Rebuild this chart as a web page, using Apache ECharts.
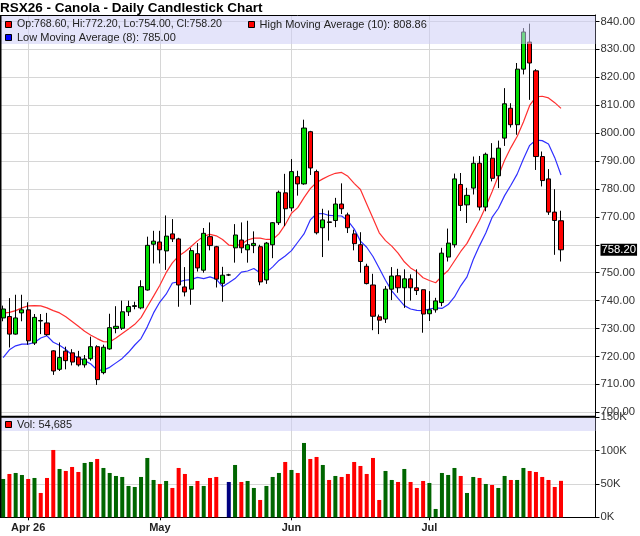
<!DOCTYPE html>
<html><head><meta charset="utf-8">
<script src="https://cdn.jsdelivr.net/npm/echarts/dist/echarts.min.js"></script>
<style>html,body{margin:0;padding:0;background:#fff}#c{width:640px;height:536px}</style>
</head><body><div id="c"></div>
<script>
// ---- data ----
const opens = [733.8,734.3,728.0,735.6,736.7,724.8,732.9,732.0,722.0,715.4,
721.9,721.3,719.8,717.0,719.2,723.5,714.2,722.7,730.0,730.1,
736.0,737.9,737.4,743.8,760.2,761.0,757.8,763.9,762.1,744.9,
744.1,756.8,750.9,762.9,759.3,746.2,749.2,758.9,761.7,758.2,
759.7,759.3,747.4,760.0,767.9,778.6,773.2,784.4,781.8,800.5,
786.2,766.1,768.2,768.7,774.6,770.7,763.9,760.0,752.3,745.6,
734.2,733.4,744.1,748.9,744.6,747.8,744.6,743.9,735.3,736.7,
739.3,755.6,760.0,781.6,774.3,780.3,789.2,773.5,791.0,784.7,
798.2,808.9,803.0,822.9,832.6,822.3,791.6,783.6,771.7,768.6];
const highs = [738.2,740.9,742.1,742.1,739.4,735.2,735.2,735.6,722.2,725.0,
723.5,722.6,722.0,720.5,727.1,724.0,724.2,735.3,738.0,740.0,
740.0,739.6,747.3,762.9,765.0,765.0,770.5,769.2,762.5,752.0,
758.8,760.6,766.0,768.0,759.6,752.1,749.6,767.4,768.0,768.6,
764.8,760.0,761.0,768.1,779.4,785.4,790.7,786.5,804.8,800.8,
786.9,772.9,772.3,776.8,782.0,771.5,765.4,764.5,753.2,749.6,
735.0,745.2,752.0,751.4,751.2,749.4,751.2,744.0,743.4,741.0,
758.9,765.8,785.5,785.7,780.4,791.6,791.8,793.0,796.4,797.3,
816.1,810.7,825.1,837.6,839.2,822.9,793.4,787.1,779.9,772.2];
const lows = [732.6,723.2,727.8,732.6,724.2,724.1,728.0,727.4,713.4,714.8,
715.4,716.8,716.4,716.0,718.5,709.8,713.6,722.4,728.3,729.5,
734.5,736.9,736.9,743.6,753.3,753.3,751.0,761.0,737.8,741.5,
738.5,750.4,750.0,758.0,744.7,739.6,748.8,753.6,757.0,753.6,
757.0,745.5,746.0,755.2,767.1,766.7,772.0,777.6,781.5,785.0,
763.7,755.6,761.5,766.3,771.0,764.2,758.0,750.0,745.8,729.4,
728.0,732.0,740.2,742.8,737.4,740.0,742.0,728.5,732.7,735.7,
738.0,754.0,759.0,772.1,767.8,778.0,772.3,772.0,782.7,780.3,
795.4,802.0,799.4,821.0,811.9,786.8,780.9,770.7,756.4,754.0];
const closes = [737.0,728.0,733.8,736.7,725.6,734.0,732.7,727.8,714.8,719.6,
718.5,718.0,717.0,719.1,723.5,711.7,723.3,730.3,730.8,736.0,
737.9,738.2,745.0,759.8,761.3,758.2,763.1,762.1,745.6,743.1,
757.9,751.7,764.1,759.7,747.7,749.1,749.2,763.5,758.9,760.0,
760.5,746.7,760.6,767.9,778.8,772.9,786.2,781.8,801.8,787.5,
764.3,768.9,768.0,774.6,772.9,766.1,760.4,754.0,746.1,734.4,
733.0,744.1,748.8,744.6,747.8,744.6,743.6,735.2,736.7,739.9,
757.0,760.6,783.6,774.1,777.7,789.2,773.5,792.4,783.8,794.6,
810.5,803.0,822.9,836.2,825.1,791.6,783.0,771.7,768.7,758.2];
const volumes = [57500,65000,66500,63500,57500,59000,36500,59000,101000,72500,
69500,75500,68000,81500,83000,87500,74000,66500,62000,60500,
47000,45500,60500,89000,56000,50000,54500,44000,74000,65000,
47000,54500,47000,59000,60500,null,53000,78500,53000,54500,
44000,26000,47000,60500,66500,83000,71000,66500,111500,87500,
90500,78500,56000,62000,60500,65000,83000,77000,65000,89000,
26000,69500,56000,53000,72500,53000,44000,54500,51500,12500,
66500,63500,74000,62000,36500,60500,59000,50000,48500,44000,
62000,56000,56000,74000,69500,68000,60500,56000,45500,54685];
const highMA10 = [735.5,735.8,736.4,737.4,738.1,738.2,738.1,737.4,736.4,735.6,
734.2,732.5,730.8,729.0,727.6,726.4,725.3,725.2,726.6,728.2,
729.8,731.5,733.9,737.8,741.6,745.5,750.0,753.5,756.0,757.5,
759.4,761.4,763.1,763.7,763.2,761.9,759.9,759.6,760.2,761.7,
762.4,762.4,761.9,761.9,763.9,767.2,771.3,773.3,776.9,780.1,
782.3,783.6,784.7,785.6,785.9,784.5,782.0,779.8,774.6,769.5,
764.3,761.5,759.5,757.0,753.9,751.7,750.3,748.2,747.2,746.4,
748.8,750.8,754.2,757.6,760.5,764.7,768.8,773.7,779.0,784.6,
790.3,794.8,798.8,804.0,809.9,813.0,813.2,812.6,810.9,808.86];
const lowMA8 = [719.6,722.4,723.8,724.4,724.4,725.0,726.6,727.4,725.1,724.0,
722.5,720.5,719.5,718.5,717.3,715.1,715.1,716.1,717.7,719.3,
721.5,724.1,726.4,730.6,735.6,739.5,742.3,746.3,746.7,747.3,
747.5,748.3,747.9,748.5,747.7,745.0,746.4,747.9,750.2,750.6,
751.5,749.9,750.1,752.1,754.4,756.0,757.9,760.9,763.9,768.9,
771.1,771.2,770.5,770.4,770.3,768.6,765.7,761.3,759.1,755.8,
751.6,747.3,743.5,740.8,738.2,737.0,736.5,736.4,737.0,737.4,
737.2,738.6,741.3,745.3,748.5,754.7,759.7,764.2,769.8,773.0,
777.6,781.3,785.3,790.7,795.6,797.5,797.3,796.1,791.2,785.00];
const tickIndex = [4, 25, 46, 68];
const tickLabels = ['Apr 26', 'May', 'Jun', 'Jul'];
const slotCount = 95;           // trading-day slots on the axis (incl. empty right margin)
const priceMin = 700, priceMax = 840, priceStep = 10;
const volMin = 0, volMax = 150000, volStep = 50000;

// ---- build ----
const FONT = 'Arial, "Liberation Sans", sans-serif';
const cats = Array.from({length: slotCount}, (_, i) => 'd' + i);
const frameCats = Array.from({length: slotCount * 2 + 1}, (_, j) => 'h' + j);
const candleData = opens.map((o, i) => [o, closes[i], lows[i], highs[i]]);
const volData = volumes.map((v, i) => ({
  value: v,
  itemStyle: {color: closes[i] > opens[i] ? '#006600' : (closes[i] < opens[i] ? '#ff0000' : '#000080')}
}));
const n = closes.length - 1;
const lastClose = closes[n];
const fmt2 = v => v.toFixed(2);
const isTickSlot = j => j % 2 === 1 && tickIndex.includes((j - 1) / 2);

const GL = -0.5, GR = 44.5;
const chart = echarts.init(document.getElementById('c'), null, {renderer: 'canvas'});
const option = {
  animation: false,
  backgroundColor: '#fff',
  textStyle: {fontFamily: FONT},
  title: {text: 'RSX26 - Canola - Daily Candlestick Chart', left: 0, top: 1, padding: 0,
    textStyle: {fontFamily: FONT, fontSize: 13.5, fontWeight: 'bold', color: '#000'}},
  grid: [
    {left: GL, right: GR, top: 21.4, height: 390.9},
    {left: GL, right: GR, top: 417.3, height: 100},
    {left: GL, right: GR, top: 15, height: 502.3}
  ],
  xAxis: [
    {type: 'category', gridIndex: 0, data: cats, boundaryGap: true, axisLine: {show: false}, axisTick: {show: false}, axisLabel: {show: false}, splitLine: {show: false}},
    {type: 'category', gridIndex: 1, data: cats, boundaryGap: true, axisLine: {show: false}, axisTick: {show: false}, axisLabel: {show: false}, splitLine: {show: false}},
    {type: 'category', gridIndex: 2, data: frameCats, boundaryGap: false,
      axisLine: {show: true, lineStyle: {color: '#000', width: 1}},
      axisTick: {show: true, interval: (j) => isTickSlot(j), length: 3, lineStyle: {color: '#000'}},
      axisLabel: {interval: (j) => isTickSlot(j), formatter: (v, j) => isTickSlot(j) ? tickLabels[tickIndex.indexOf((j - 1) / 2)] : '',
        fontFamily: FONT, fontSize: 11, fontWeight: 'bold', color: '#222', margin: 5.5},
      splitLine: {show: true, interval: (j) => isTickSlot(j), lineStyle: {color: '#d6d6d6', width: 1}}}
  ],
  yAxis: [
    {type: 'value', gridIndex: 0, position: 'right', min: priceMin, max: priceMax, interval: priceStep,
      axisLine: {show: false}, axisTick: {show: true, length: 4, lineStyle: {color: '#000'}},
      axisLabel: {formatter: v => Math.abs(v - lastClose) < 4 ? '' : fmt2(v), fontFamily: FONT, fontSize: 11.3, color: '#333', margin: 5},
      splitLine: {show: true, lineStyle: {color: '#d6d6d6', width: 1}}},
    {type: 'value', gridIndex: 1, position: 'right', min: volMin, max: volMax, interval: volStep,
      axisLine: {show: false}, axisTick: {show: true, length: 4, lineStyle: {color: '#000'}},
      axisLabel: {formatter: v => (v / 1000) + 'K', fontFamily: FONT, fontSize: 11.3, color: '#333', margin: 5},
      splitLine: {show: true, lineStyle: {color: '#d6d6d6', width: 1}}},
    {type: 'value', gridIndex: 2, position: 'right', min: 0, max: 1,
      axisLine: {show: true, lineStyle: {color: '#000', width: 1}}, axisTick: {show: false}, axisLabel: {show: false}, splitLine: {show: false}}
  ],
  series: [
    {name: 'HighMA', type: 'line', xAxisIndex: 0, yAxisIndex: 0, data: highMA10, showSymbol: false, smooth: false,
      lineStyle: {color: '#ff3030', width: 1.2}, z: 2, silent: true},
    {name: 'LowMA', type: 'line', xAxisIndex: 0, yAxisIndex: 0, data: lowMA8, showSymbol: false, smooth: false,
      lineStyle: {color: '#3030ff', width: 1.2}, z: 2, silent: true},
    {name: 'Price', type: 'candlestick', xAxisIndex: 0, yAxisIndex: 0, data: candleData, barWidth: 4.6, z: 3,
      itemStyle: {color: '#00dd00', color0: '#ff0000', borderColor: '#000', borderColor0: '#000', borderColorDoji: '#000', borderWidth: 1},
      markLine: {silent: true, symbol: ['none', 'none'], animation: false,
        lineStyle: {color: 'rgba(0,0,0,0)', width: 1, type: 'solid'},
        label: {show: true, position: 'end', distance: 5, formatter: fmt2(lastClose), backgroundColor: '#000', color: '#fff',
          fontFamily: FONT, fontSize: 11.3, padding: [1, 1, 0, 1]},
        emphasis: {disabled: true},
        data: [{yAxis: lastClose}]}},
    {name: 'Volume', type: 'bar', xAxisIndex: 1, yAxisIndex: 1, data: volData, barWidth: 4, silent: true}
  ],
  graphic: [
    {type: 'rect', z: 100, shape: {x: 1, y: 16, width: 594.5, height: 28}, style: {fill: 'rgba(205,205,245,0.55)'}},
    {type: 'rect', z: 100, shape: {x: 1, y: 418, width: 594.5, height: 13}, style: {fill: 'rgba(205,205,245,0.55)'}},
    {type: 'line', z: 101, shape: {x1: 0, y1: 15.5, x2: 595.5, y2: 15.5}, style: {stroke: '#000', lineWidth: 1}},
    {type: 'line', z: 101, shape: {x1: 0.75, y1: 15, x2: 0.75, y2: 517.5}, style: {stroke: '#000', lineWidth: 1.5}},
    {type: 'line', z: 101, shape: {x1: 0, y1: 416.7, x2: 596, y2: 416.7}, style: {stroke: '#000', lineWidth: 2}},
    {type: 'rect', z: 102, shape: {x: 5.5, y: 21.5, width: 6, height: 6}, style: {fill: '#ff0000', stroke: '#000', lineWidth: 1}},
    {type: 'text', z: 102, x: 17, y: 24.5, style: {text: 'Op:' + fmt2(opens[n]) + ', Hi:' + fmt2(highs[n]) + ', Lo:' + fmt2(lows[n]) + ', Cl:' + fmt2(closes[n]),
      fill: '#222', font: '10.6px ' + FONT, verticalAlign: 'middle'}},
    {type: 'rect', z: 102, shape: {x: 248.5, y: 21.5, width: 6, height: 6}, style: {fill: '#ff0000', stroke: '#000', lineWidth: 1}},
    {type: 'text', z: 102, x: 259.5, y: 24.5, style: {text: 'High Moving Average (10): ' + fmt2(highMA10[n]),
      fill: '#222', font: '11px ' + FONT, verticalAlign: 'middle'}},
    {type: 'rect', z: 102, shape: {x: 5.5, y: 34.5, width: 6, height: 6}, style: {fill: '#0000ff', stroke: '#000', lineWidth: 1}},
    {type: 'text', z: 102, x: 17, y: 38, style: {text: 'Low Moving Average (8): ' + fmt2(lowMA8[n]),
      fill: '#222', font: '11px ' + FONT, verticalAlign: 'middle'}},
    {type: 'rect', z: 102, shape: {x: 5.5, y: 421.5, width: 6, height: 6}, style: {fill: '#ff0000', stroke: '#000', lineWidth: 1}},
    {type: 'text', z: 102, x: 17, y: 425, style: {text: 'Vol: ' + volumes[n].toLocaleString('en-US'),
      fill: '#222', font: '11px ' + FONT, verticalAlign: 'middle'}}
  ]
};
chart.setOption(option);
</script>
</body></html>
